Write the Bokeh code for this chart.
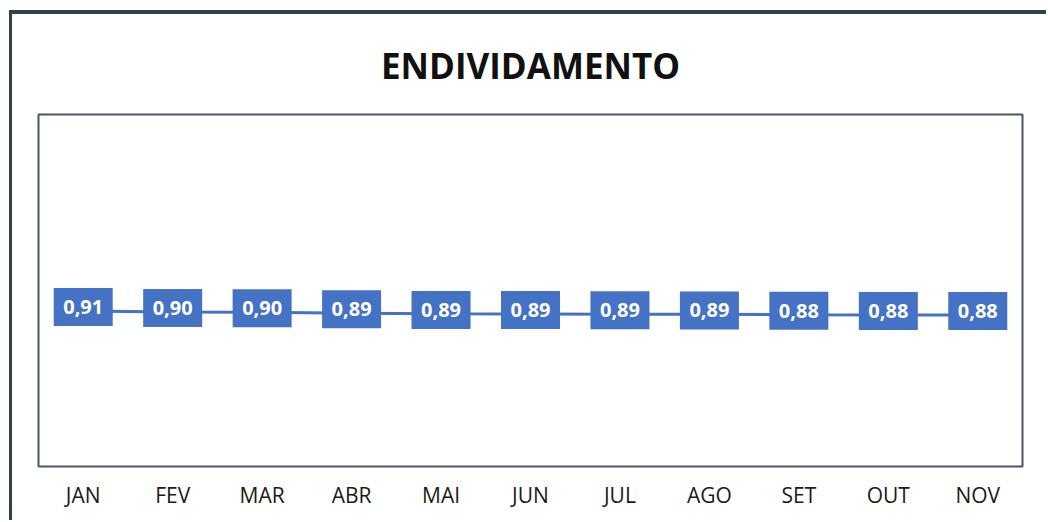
from bokeh.plotting import figure
from bokeh.models import FactorRange, Range1d, ColumnDataSource
from bokeh.core.properties import value
from bokeh.embed import file_html
from bokeh.resources import INLINE

months = ["JAN", "FEV", "MAR", "ABR", "MAI", "JUN", "JUL", "AGO", "SET", "OUT", "NOV"]
endividamento = [0.906, 0.900, 0.898, 0.893, 0.889, 0.888, 0.887, 0.886, 0.884, 0.883, 0.882]
labels = [f"{v:.2f}".replace(".", ",") for v in endividamento]
title_text = "ENDIVIDAMENTO"

BLUE = "#4472C4"
LABEL_LIFT = 0.023  # boxes sit a few pixels above the line point

src = ColumnDataSource(dict(
    x=months,
    y=endividamento,
    ylab=[v + LABEL_LIFT for v in endividamento],
    label=labels,
))

p = figure(
    title=title_text,
    frame_width=984, frame_height=352,
    x_range=FactorRange(*months, range_padding=0),
    y_range=Range1d(0, 2.05),
    output_backend="svg", toolbar_location=None,
    min_border_left=26, min_border_right=24,
    min_border_top=100, min_border_bottom=54,
    styles={"margin-left": "9px", "margin-top": "10px",
            "border-top": "4px solid #333e4f",
            "border-left": "3px solid #333e4f"},
)

p.title.align = "center"
p.title.vertical_align = "top"
p.title.text_font = "Open Sans"
p.title.text_font_style = "bold"
p.title.text_font_size = "35px"
p.title.text_color = "#111111"
p.title.standoff = 48

p.outline_line_color = "#4a5565"
p.outline_line_width = 2
p.background_fill_color = "white"
p.border_fill_color = "white"
p.grid.visible = False
p.yaxis.visible = False

p.xaxis.axis_line_color = None
p.xaxis.major_tick_line_color = None
p.xaxis.minor_tick_line_color = None
p.xaxis.major_tick_out = 0
p.xaxis.major_tick_in = 0
p.xaxis.major_label_text_font = "Open Sans"
p.xaxis.major_label_text_font_size = "21px"
p.xaxis.major_label_text_color = "#1a1a1a"
p.xaxis.major_label_standoff = 14

p.line("x", "y", source=src, line_color=BLUE, line_width=3)
p.rect("x", "ylab", width=59, height=38, width_units="screen", height_units="screen",
       source=src, fill_color=BLUE, line_color=None)
p.text("x", "ylab", text="label", source=src, text_align="center", text_baseline="middle",
       text_font=value("Open Sans"), text_font_style="bold", text_font_size="20px",
       text_color="white")

open("out.html", "w").write(file_html(p, INLINE))
